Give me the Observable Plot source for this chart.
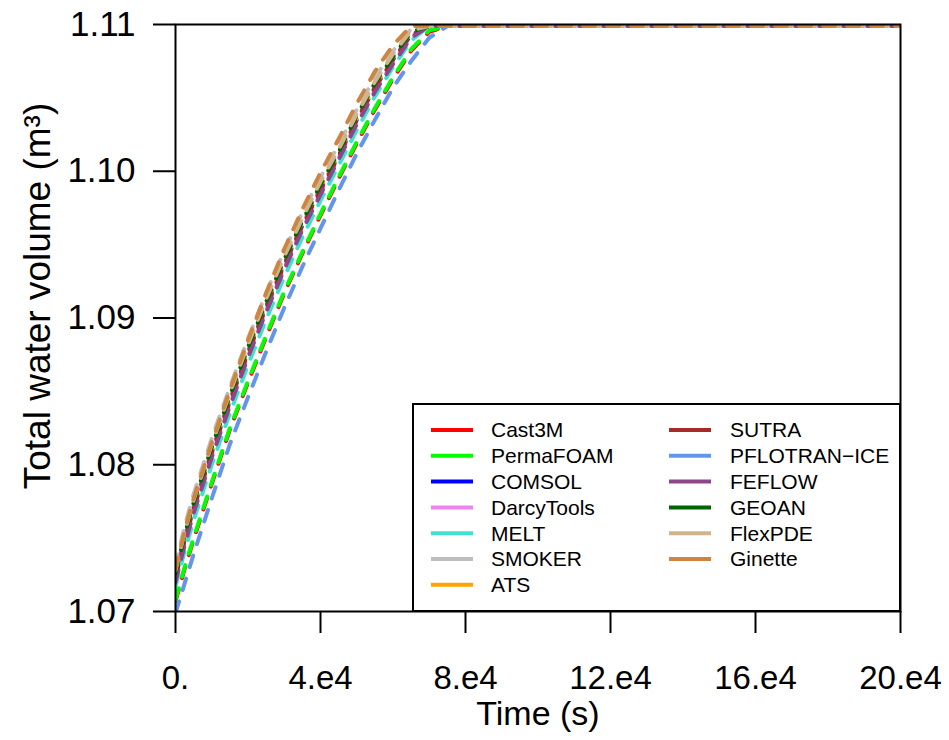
<!DOCTYPE html>
<html>
<head>
<meta charset="utf-8">
<script src="https://cdn.jsdelivr.net/npm/d3@7"></script>
<script src="https://cdn.jsdelivr.net/npm/@observablehq/plot@0.6"></script>
<style>
  html, body { margin: 0; padding: 0; background: #fff; }
  svg text { font-family: "Liberation Sans", Arial, sans-serif; }
</style>
</head>
<body>
<div id="chart"></div>
<script>
// Time grid (s)
const times = [0, 2500, 5000, 10000, 15000, 20000, 25000, 30000, 35000, 40000, 45000, 50000, 55000, 60000, 65000, 70000, 75000, 200000];
const P = 1.1099;

// Series (legend order = drawing order)
const seriesNames = ["Cast3M", "PermaFOAM", "COMSOL", "DarcyTools", "MELT", "SMOKER", "ATS",
                     "SUTRA", "PFLOTRAN\u2212ICE", "FEFLOW", "GEOAN", "FlexPDE", "Ginette"];
const seriesColors = ["#FF0000", "#00FF00", "#0000FF", "#EE82EE", "#40E0D0", "#BEBEBE", "#FFA500",
                      "#A52A2A", "#6495ED", "#8B4789", "#006400", "#D2B48C", "#CD853F"];

const cast3M     = [1.0707, 1.0729, 1.0749, 1.0787, 1.0824, 1.0856, 1.0887, 1.0917, 1.0944, 1.0970, 1.0995, 1.1019, 1.1042, 1.1063, 1.1082, 1.1095, P, P];
const permaFOAM  = [1.0708, 1.0730, 1.0750, 1.0788, 1.0825, 1.0857, 1.0888, 1.0918, 1.0945, 1.0971, 1.0996, 1.1020, 1.1043, 1.1064, 1.1083, 1.1096, P, P];
const comsol     = [1.0724, 1.0749, 1.0771, 1.0809, 1.0844, 1.0877, 1.0908, 1.0937, 1.0963, 1.0988, 1.1011, 1.1035, 1.1057, 1.1076, 1.1093, P, P, P];
const darcyTools = [1.0721, 1.0746, 1.0768, 1.0806, 1.0841, 1.0874, 1.0905, 1.0934, 1.0961, 1.0985, 1.1009, 1.1033, 1.1055, 1.1074, 1.1092, P, P, P];
const melt       = [1.0717, 1.0741, 1.0762, 1.0800, 1.0835, 1.0868, 1.0899, 1.0928, 1.0955, 1.0980, 1.1004, 1.1028, 1.1051, 1.1071, 1.1089, P, P, P];
const smoker     = [1.0731, 1.0758, 1.0780, 1.0818, 1.0853, 1.0886, 1.0917, 1.0946, 1.0972, 1.0996, 1.1018, 1.1042, 1.1064, 1.1082, 1.1097, P, P, P];
const ats        = [1.0725, 1.0750, 1.0772, 1.0810, 1.0845, 1.0878, 1.0909, 1.0938, 1.0965, 1.0989, 1.1012, 1.1036, 1.1058, 1.1077, 1.1094, P, P, P];
const sutra      = [1.0723, 1.0748, 1.0770, 1.0808, 1.0843, 1.0876, 1.0907, 1.0936, 1.0963, 1.0987, 1.1010, 1.1035, 1.1057, 1.1076, 1.1093, P, P, P];
const pflotran   = [1.0699, 1.0719, 1.0739, 1.0777, 1.0814, 1.0846, 1.0877, 1.0907, 1.0935, 1.0961, 1.0987, 1.1012, 1.1035, 1.1057, 1.1075, 1.1091, P, P];
const feflow     = [1.0720, 1.0745, 1.0767, 1.0805, 1.0840, 1.0873, 1.0904, 1.0933, 1.0960, 1.0984, 1.1008, 1.1032, 1.1054, 1.1073, 1.1091, P, P, P];
const geoan      = [1.0726, 1.0752, 1.0774, 1.0812, 1.0847, 1.0880, 1.0911, 1.0940, 1.0966, 1.0991, 1.1013, 1.1038, 1.1060, 1.1078, 1.1095, P, P, P];
const flexPDE    = [1.0728, 1.0754, 1.0776, 1.0814, 1.0849, 1.0882, 1.0913, 1.0942, 1.0968, 1.0993, 1.1015, 1.1039, 1.1061, 1.1080, 1.1096, P, P, P];
const ginette    = [1.0729, 1.0755, 1.0777, 1.0815, 1.0851, 1.0885, 1.0917, 1.0947, 1.0974, 1.0999, 1.1022, 1.1046, 1.1068, 1.1086, P, P, P, P];

const seriesValues = [cast3M, permaFOAM, comsol, darcyTools, melt, smoker, ats,
                      sutra, pflotran, feflow, geoan, flexPDE, ginette];

// Axis ticks
const xTicks = [0, 40000, 80000, 120000, 160000, 200000];
const xTickLabels = ["0.", "4.e4", "8.e4", "12.e4", "16.e4", "20.e4"];
const yTicks = [1.07, 1.08, 1.09, 1.10, 1.11];
const yTickLabels = ["1.07", "1.08", "1.09", "1.10", "1.11"];
const xTitle = "Time (s)";
const yTitle = "Total water volume (m\u00B3)";

(function () {
  // Long table for Plot
  const rows = [];
  seriesNames.forEach((name, i) => {
    seriesValues[i].forEach((v, j) => rows.push({name, t: times[j], v}));
  });

  const chart = Plot.plot({
    width: 949,
    height: 740,
    marginLeft: 175,
    marginRight: 49,
    marginTop: 24,
    marginBottom: 129,
    x: {domain: [0, 200000]},
    y: {domain: [1.07, 1.11]},
    color: {domain: seriesNames, range: seriesColors},
    marks: [
      Plot.axisX({ticks: xTicks, tickFormat: d => xTickLabels[xTicks.indexOf(d)],
        tickSize: 22, tickPadding: 32, fontSize: 33, strokeWidth: 2, label: null}),
      Plot.axisY({ticks: yTicks, tickFormat: d => yTickLabels[yTicks.findIndex(t => Math.abs(t - d) < 1e-9)],
        tickSize: 22, tickPadding: 18, fontSize: 35, strokeWidth: 2, label: null}),
      Plot.lineY(rows, {x: "t", y: "v", z: "name", stroke: "name", strokeWidth: 4,
        strokeDasharray: "12,12", clip: true}),
      Plot.frame({stroke: "black", strokeWidth: 2}),
      Plot.text([xTitle], {frameAnchor: "bottom", dy: 113, fontSize: 34, fill: "black"}),
      Plot.text([yTitle], {frameAnchor: "left", textAnchor: "middle", rotate: -90,
        dx: -137, dy: -22, fontSize: 37, fill: "black"})
    ]
  });

  document.getElementById("chart").appendChild(chart);

  // Legend inside the plot, bottom-right, built from the plot's own scales
  const xs = chart.scale("x"), ys = chart.scale("y"), cs = chart.scale("color");
  const boxRight = xs.range[1], boxBottom = ys.range[0];
  const boxW = 487, boxH = 207;
  const boxLeft = boxRight - boxW, boxTop = boxBottom - boxH;
  const svg = d3.select(chart);
  const lg = svg.append("g").attr("aria-label", "legend").attr("text-anchor", "start");
  lg.append("rect").attr("x", boxLeft).attr("y", boxTop).attr("width", boxW).attr("height", boxH)
    .attr("fill", "white").attr("stroke", "black").attr("stroke-width", 2);
  const perCol = 7, rowH = 25.8;
  seriesNames.forEach((name, i) => {
    const col = Math.floor(i / perCol), row = i % perCol;
    const lx = boxLeft + (col === 0 ? 18 : 256);
    const tx = boxLeft + (col === 0 ? 78 : 317);
    const cy = boxTop + 26 + row * rowH;
    lg.append("line").attr("x1", lx).attr("x2", lx + 42).attr("y1", cy).attr("y2", cy)
      .attr("stroke", cs.apply(name)).attr("stroke-width", 4);
    lg.append("text").attr("x", tx).attr("y", cy).attr("dy", "0.35em")
      .attr("text-anchor", "start").attr("font-size", 21).attr("fill", "black").text(name);
  });
})();
</script>
</body>
</html>
